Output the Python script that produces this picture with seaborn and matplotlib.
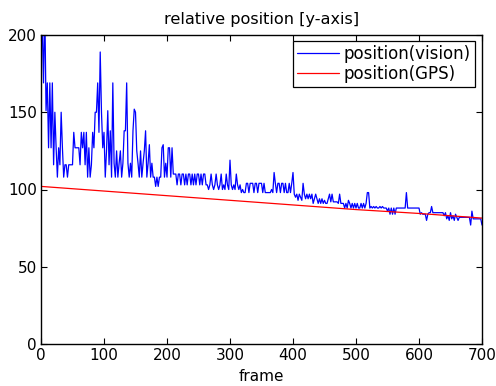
import numpy as np
import pandas as pd
import matplotlib
matplotlib.use("Agg")
import matplotlib.pyplot as plt
import seaborn as sns

# ---- data ----
vision_step = 2  # frames between listed vision samples
vision_values = [
    220, 205, 169, 220, 151, 169, 127, 169, 127, 169,
    116, 150, 127, 108, 127, 116, 150, 127, 108, 116,
    116, 108, 116, 116, 116, 116, 137, 127, 127, 127,
    127, 116, 137, 127, 137, 116, 137, 108, 127, 108,
    116, 137, 127, 150, 150, 169, 137, 189, 150, 127,
    137, 108, 125, 151, 116, 138, 108, 169, 117, 108,
    125, 108, 117, 125, 108, 117, 138, 138, 169, 117,
    108, 117, 108, 138, 152, 150, 125, 117, 108, 125,
    108, 117, 125, 138, 108, 117, 129, 108, 117, 108,
    108, 102, 108, 102, 108, 108, 127, 129, 108, 117,
    108, 127, 127, 108, 127, 110, 110, 110, 103, 110,
    110, 103, 110, 110, 103, 110, 103, 110, 110, 103,
    110, 103, 110, 103, 110, 110, 103, 110, 103, 110,
    110, 103, 103, 100, 103, 110, 103, 100, 103, 110,
    103, 100, 103, 110, 100, 103, 100, 110, 103, 100,
    119, 103, 100, 103, 100, 110, 103, 100, 103, 98,
    100, 98, 98, 104, 104, 98, 104, 104, 104, 98,
    104, 104, 98, 104, 104, 104, 98, 104, 98, 98,
    98, 98, 98, 100, 98, 111, 104, 98, 104, 104,
    98, 104, 104, 98, 104, 98, 98, 104, 98, 104,
    111, 97, 95, 97, 93, 97, 95, 93, 104, 97,
    94, 97, 94, 97, 94, 97, 91, 94, 97, 94,
    91, 94, 91, 94, 91, 93, 91, 91, 94, 97,
    92, 97, 92, 92, 92, 92, 91, 97, 91, 91,
    91, 88, 91, 88, 93, 91, 88, 91, 88, 91,
    88, 91, 88, 88, 91, 88, 91, 88, 91, 98,
    98, 88, 89, 88, 89, 88, 89, 88, 88, 89,
    88, 89, 88, 88, 88, 86, 88, 84, 88, 84,
    88, 84, 88, 88, 88, 88, 88, 88, 88, 88,
    98, 88, 88, 88, 88, 88, 88, 88, 88, 88,
    88, 84, 85, 84, 84, 84, 80, 84, 85, 85,
    89, 85, 85, 85, 85, 85, 85, 85, 85, 85,
    83, 85, 81, 83, 80, 85, 81, 83, 80, 84,
    82, 80, 82, 82, 82, 82, 82, 82, 82, 82,
    82, 77, 86, 81, 81, 81, 81, 81, 81, 81,
    77,
]
gps_frames = [0, 100, 200, 300, 400, 500, 600, 700]
gps_values = [102, 99, 96, 93, 90, 87, 84.5, 81.5]

x_ticks = [0, 100, 200, 300, 400, 500, 600, 700]
y_ticks = [0, 50, 100, 150, 200]
title = "relative position [y-axis]"
x_label = "frame"
labels = ["position(vision)", "position(GPS)"]

vision_frames = np.arange(len(vision_values)) * vision_step
df_v = pd.DataFrame({"frame": vision_frames, "value": vision_values})
df_g = pd.DataFrame({"frame": gps_frames, "value": gps_values})

# ---- styling ----
sns.set_style("ticks")
plt.rcParams["font.family"] = ["DejaVu Sans"]
FS = 11
plt.rcParams["font.size"] = FS
plt.rcParams["text.color"] = "black"
plt.rcParams["axes.labelcolor"] = "black"
plt.rcParams["xtick.color"] = "black"
plt.rcParams["ytick.color"] = "black"

fig = plt.figure(figsize=(4.96, 3.86), dpi=100)
ax = fig.add_axes([41 / 496, 1 - 344 / 386, 441 / 496, 309 / 386])

sns.lineplot(data=df_v, x="frame", y="value", ax=ax, color="#0000ff",
             linewidth=0.9, label=labels[0], estimator=None)
sns.lineplot(data=df_g, x="frame", y="value", ax=ax, color="#ff0000",
             linewidth=0.9, label=labels[1], estimator=None)

ax.set_xlim(0, 700)
ax.set_ylim(0, 200)
ax.set_xticks(x_ticks)
ax.set_yticks(y_ticks)
ax.tick_params(direction="in", length=4, width=0.8, top=True, right=True,
               labelsize=FS, colors="black")
ax.tick_params(axis="x", pad=3)
ax.tick_params(axis="y", pad=3)
for s in ax.spines.values():
    s.set_visible(True)
    s.set_linewidth(1.0)
    s.set_color("black")

ax.set_title(title, fontsize=11.6, pad=8, color="black")
ax.set_xlabel(x_label, fontsize=FS, labelpad=4, color="black")
ax.set_ylabel("")

leg = ax.legend(loc="upper right", bbox_to_anchor=(434 / 441, 303 / 309),
                borderaxespad=0, frameon=True,
                fancybox=False, edgecolor="black", framealpha=1,
                handlelength=2.5, handletextpad=0.3, borderpad=0.25,
                labelspacing=0.12, fontsize=12, labelcolor="black")
leg.get_frame().set_linewidth(0.9)

fig.savefig("out.png", dpi=100)
